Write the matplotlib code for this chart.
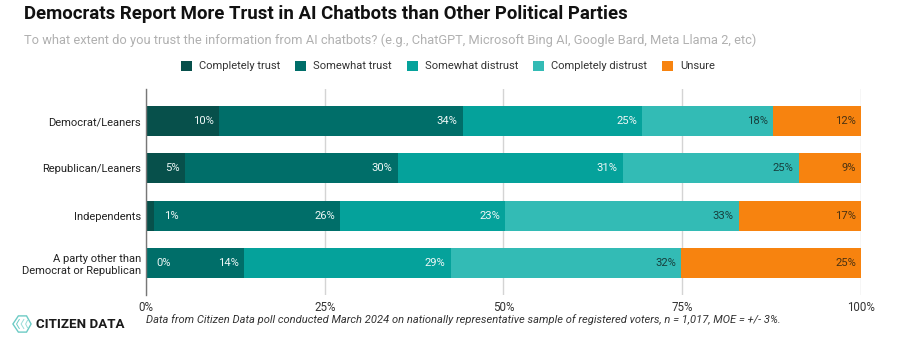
import matplotlib
matplotlib.use('Agg')
from matplotlib import pyplot as plt
from matplotlib.patches import Polygon

plt.rcParams['font.family'] = ['Roboto', 'DejaVu Sans']

groups = ['Democrat/Leaners', 'Republican/Leaners', 'Independents',
          'A party other than\nDemocrat or Republican']
responses = ['Completely trust', 'Somewhat trust', 'Somewhat distrust',
             'Completely distrust', 'Unsure']
colors = ['#07504b', '#006e69', '#05a29b', '#33bbb5', '#f7830f']
label_colors = ['#eef7f6', '#eef7f6', '#eef7f6', '#17403e', '#4a3212']

# segment widths
completely_trust = [10.2, 5.4, 1.1, 0.0]
somewhat_trust = [34.1, 29.8, 26.0, 13.7]
somewhat_distrust = [25.1, 31.5, 23.1, 28.9]
completely_distrust = [18.3, 24.6, 32.7, 32.2]
unsure = [12.3, 8.7, 17.1, 25.2]
series = [completely_trust, somewhat_trust, somewhat_distrust,
          completely_distrust, unsure]

# printed labels
label_trust = ['10%', '5%', '1%', '0%']
label_somewhat = ['34%', '30%', '26%', '14%']
label_distrust = ['25%', '31%', '23%', '29%']
label_complete = ['18%', '25%', '33%', '32%']
label_unsure = ['12%', '9%', '17%', '25%']
labels = [label_trust, label_somewhat, label_distrust, label_complete, label_unsure]

xticks = [0, 25, 50, 75, 100]

W, H = 900, 357
fig = plt.figure(figsize=(W / 100, H / 100), dpi=100)
ax = fig.add_axes([146 / W, 1 - 295 / H, 715 / W, 206 / H])

px = 100 / 715  # data units per pixel
y = [0, 1, 2, 3]
left = [0, 0, 0, 0]
for s, vals in enumerate(series):
    ax.barh(y, vals, left=left, height=30 / 47.3, color=colors[s], zorder=3, label=responses[s])
    for i in y:
        end = left[i] + vals[i]
        tx = end - 5 * px
        # labels of very narrow segments sit to the right of them
        if vals[i] < 3:
            tx = end + 25 * px
        ax.text(tx, i, labels[s][i], ha='right', va='center', fontsize=8.1,
                color=label_colors[s], zorder=4)
    left = [a + b for a, b in zip(left, vals)]

ax.set_xlim(0, 100)
ax.set_ylim(3 + 32 / 47.3, -32 / 47.3)
ax.set_yticks(y)
ax.set_yticklabels(groups, fontsize=8.05, color='#222222', linespacing=1.25)
ax.set_xticks(xticks)
ax.set_xticklabels([f'{t}%' for t in xticks], fontsize=8.3, color='#333333')
ax.tick_params(axis='y', length=0, pad=3.5)
ax.tick_params(axis='x', length=0, pad=4)
ax.grid(axis='x', color='#d4d4d4', lw=1, zorder=0)
for side in ['top', 'right', 'bottom']:
    ax.spines[side].set_visible(False)
ax.spines['left'].set_color('#777777')
ax.spines['left'].set_linewidth(1)
ax.spines['left'].set_zorder(5)

fig.text(24 / W, 1 - 14 / H, 'Democrats Report More Trust in AI Chatbots than Other Political Parties',
         fontsize=13.4, fontweight='bold', color='#111111', va='center')
fig.text(24 / W, 1 - 40 / H,
         'To what extent do you trust the information from AI chatbots? (e.g., ChatGPT, Microsoft Bing AI, Google Bard, Meta Llama 2, etc)',
         fontsize=9.28, color='#b0b0b0', va='center')

handles, names = ax.get_legend_handles_labels()
fig.legend(handles, names, loc='center', bbox_to_anchor=(448 / W, 1 - 66 / H), ncol=5, frameon=False,
           fontsize=8.05, handlelength=1.0, handleheight=1.0, handletextpad=0.65,
           columnspacing=1.3, labelcolor='#333333')

fig.text(146 / W, 1 - 320 / H,
         'Data from Citizen Data poll conducted March 2024 on nationally representative sample of registered voters, n = 1,017, MOE = +/- 3%.',
         fontsize=8.03, style='italic', color='#333333', va='center')
fig.text(36 / W, 1 - 324 / H, 'CITIZEN DATA', fontsize=9.6, fontweight='bold', color='#1a1a1a', va='center')

# logo mark
logo = fig.add_axes([12 / W, 1 - 333 / H, 20 / W, 18 / H])
logo.axis('off')
logo.set_xlim(0, 22)
logo.set_ylim(20, 0)
logo.add_patch(Polygon([(1, 10), (7, 1), (16, 1), (21, 10), (16, 19), (7, 19)], closed=True,
                       fill=False, ec='#6ccbc5', lw=1.0))
logo.plot([8, 5, 8], [5, 10, 15], color='#6ccbc5', lw=0.7)
logo.plot([13, 10, 13], [5, 10, 15], color='#9adcd8', lw=0.7)
logo.plot([17, 15, 17], [6, 10, 14], color='#9adcd8', lw=0.7)

fig.savefig('out.png', dpi=100)
